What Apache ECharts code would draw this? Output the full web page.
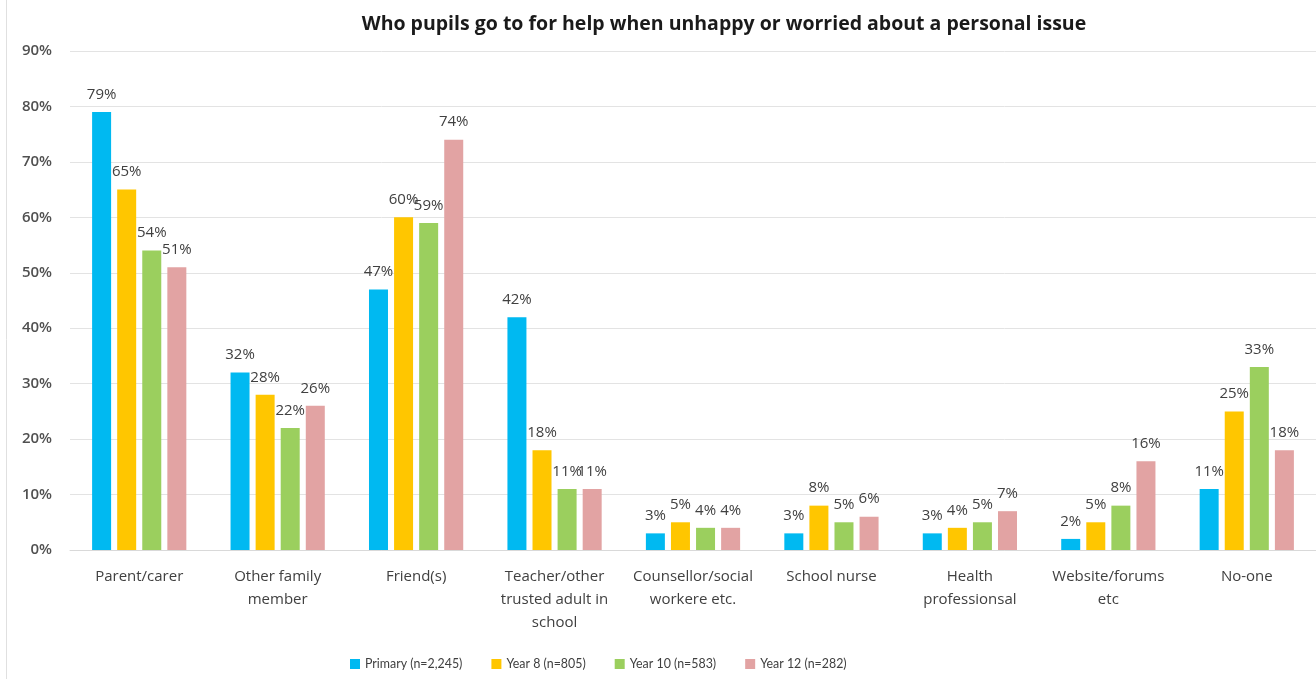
<!DOCTYPE html>
<html>
<head>
<meta charset="utf-8">
<script src="https://cdn.jsdelivr.net/npm/echarts@6/dist/echarts.min.js"></script>
<style>
  html, body { margin: 0; padding: 0; background: #fff; }
  #chart { width: 1316px; height: 679px; }
</style>
</head>
<body>
<div id="chart"></div>
<script>
// Who pupils turn to for help, by school year group (percent of pupils)
const categories = [
  'Parent/carer',
  'Other family\nmember',
  'Friend(s)',
  'Teacher/other\ntrusted adult in\nschool',
  'Counsellor/social\nworkere etc.',
  'School nurse',
  'Health\nprofessionsal',
  'Website/forums\netc',
  'No-one'
];
const primary = [79, 32, 47, 42, 3, 3, 3, 2, 11];
const year8   = [65, 28, 60, 18, 5, 8, 4, 5, 25];
const year10  = [54, 22, 59, 11, 4, 5, 5, 8, 33];
const year12  = [51, 26, 74, 11, 4, 6, 7, 16, 18];
const seriesNames = ['Primary (n=2,245)', 'Year 8 (n=805)', 'Year 10 (n=583)', 'Year 12 (n=282)'];
const yTicks = { min: 0, max: 90, interval: 10 };

const colors = ['#00B9F1', '#FFC600', '#9BCF5E', '#E2A3A3'];
const textColor = '#404040';
const font = '"Open Sans", Lato, sans-serif';

const chart = echarts.init(document.getElementById('chart'));

function barSeries(name, values, color) {
  return {
    name: name,
    type: 'bar',
    data: values,
    barWidth: 19,
    barGap: '32%',
    itemStyle: { color: color },
    label: {
      show: true,
      position: 'top',
      distance: 10,
      formatter: '{c}%',
      color: textColor,
      fontFamily: font,
      fontSize: 15
    }
  };
}

chart.setOption({
  backgroundColor: '#ffffff',
  color: colors,
  title: {
    text: 'Who pupils go to for help when unhappy or worried about a personal issue',
    left: 719,
    textAlign: 'center',
    top: 9,
    textStyle: { fontFamily: font, fontSize: 19.5, fontWeight: 'bold', color: '#1a1a1a' }
  },
  legend: {
    bottom: 4,
    left: 345,
    itemWidth: 10,
    itemHeight: 10,
    itemGap: 29,
    icon: 'rect',
    textStyle: { fontFamily: 'Lato, sans-serif', fontSize: 12.4, color: textColor },
    data: seriesNames
  },
  grid: { left: 70, top: 51, width: 1258, height: 499 },
  xAxis: {
    type: 'category',
    data: categories,
    axisTick: { show: false },
    axisLine: { lineStyle: { color: '#d9d9d9', width: 1 } },
    axisLabel: {
      interval: 0,
      margin: 15,
      color: textColor,
      fontFamily: font,
      fontSize: 15,
      lineHeight: 23
    }
  },
  yAxis: {
    type: 'value',
    min: yTicks.min,
    max: yTicks.max,
    interval: yTicks.interval,
    axisLine: { show: false },
    axisTick: { show: false },
    splitLine: { lineStyle: { color: '#e3e3e3', width: 1 } },
    axisLabel: {
      formatter: '{value}%',
      margin: 18,
      color: '#505050',
      fontFamily: font,
      fontSize: 15,
      fontWeight: 600
    }
  },
  graphic: [{
    type: 'line',
    shape: { x1: 6.5, y1: 0, x2: 6.5, y2: 679 },
    style: { stroke: '#e0e0e0', lineWidth: 1 }
  }],
  series: [
    barSeries(seriesNames[0], primary, colors[0]),
    barSeries(seriesNames[1], year8, colors[1]),
    barSeries(seriesNames[2], year10, colors[2]),
    barSeries(seriesNames[3], year12, colors[3])
  ]
});
</script>
</body>
</html>
